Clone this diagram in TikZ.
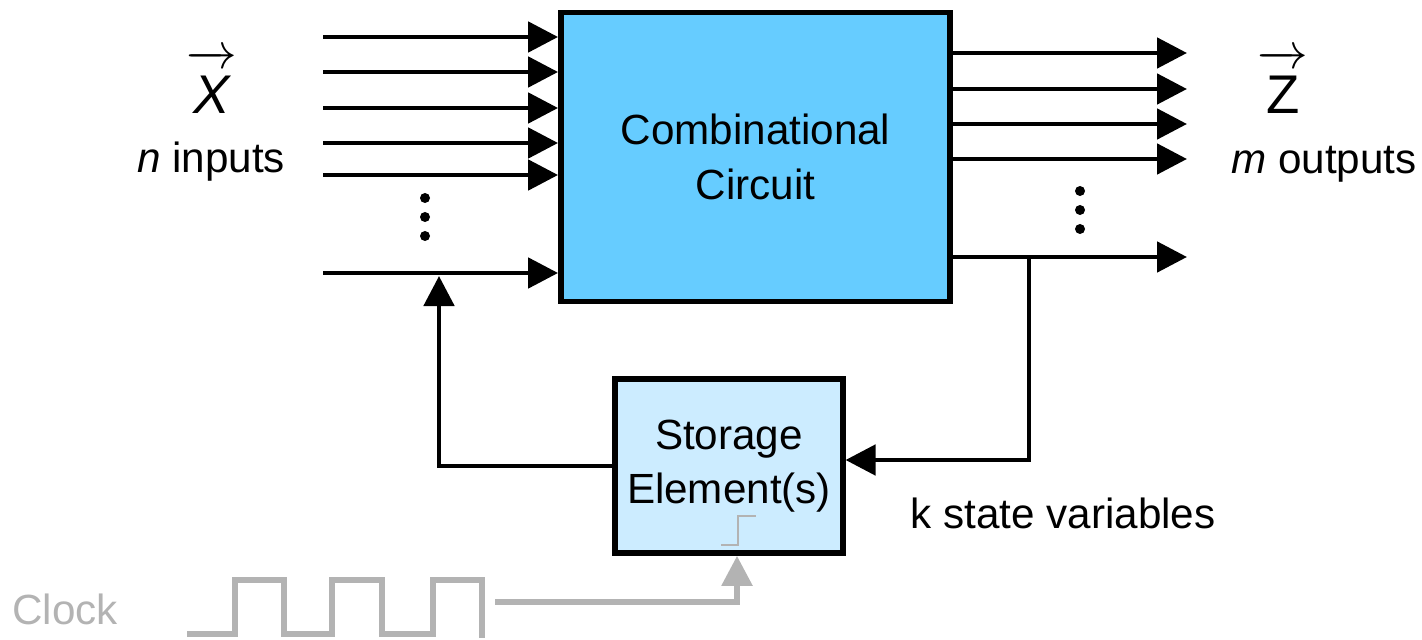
\documentclass[tikz,border=0pt]{standalone}
\usepackage{amsmath}
\usepackage{fontspec}
\setmainfont{Liberation Sans}
\usepackage{tikz}
\usetikzlibrary{arrows.meta,calc}

\definecolor{ccblue}{RGB}{102,204,255}
\definecolor{seblue}{RGB}{204,236,255}
\definecolor{clkgray}{RGB}{179,179,179}

\newcommand{\vecsym}[1]{$\overrightarrow{\rule{0pt}{12.8pt}\mbox{#1}}$}

\tikzset{
	block/.style={draw, line width=1.6pt, align=center},
	dot/.style={fill, circle, inner sep=0pt, minimum size=0.1cm},
	vlabel/.style={inner sep=0pt, font=\fontsize{15.5}{18}\selectfont},
	tlabel/.style={inner sep=1pt}
}

\begin{document}
\begin{tikzpicture}[x=0.01cm, y=-0.01cm, >={Triangle[length=0.3cm,width=0.3cm]}, line width=1.4pt, font=\fontsize{12}{15.5}\selectfont]
			\useasboundingbox (0,0) rectangle (1422,640);
			\node[block, fill=ccblue, minimum width=3.89cm, minimum height=2.89cm] (cc) at (755.5,157) {Combinational\\Circuit};
			\node[block, fill=seblue, minimum width=2.22cm, minimum height=1.74cm] (se) at (729,466) {Storage\\Element(s)};
			% inputs
			\foreach \y in {37,72,108,143,175,273}
				\draw[->] (323,\y) coordinate (in\y) -- (in\y -| cc.west);
			\foreach \y in {198,217,236}
				\node[dot] at (425,\y) {};
			% outputs
			\foreach \y in {53,89,124,159,257}
				\draw[->] (cc.east |- 0,\y) coordinate (out\y) -- (1187,\y);
			\foreach \y in {191,210,229}
				\node[dot] at (1080,\y) {};
			% feedback
			\coordinate (tap) at (1029,257);
			\coordinate (fb) at (439,276);
			\draw[->] (tap) |- ([yshift=0.06cm]se.east);
			\draw[->] (se.west) -| (fb);
			% labels
			\node[vlabel] (xvec) at (212,82) {\vecsym{\itshape X}};
			\node[tlabel] (nin) at (211,162) {\textit{n} inputs};
			\node[vlabel] (zvec) at (1283,82) {\vecsym{Z}};
			\node[tlabel] (mout) at (1324,164) {\textit{m} outputs};
			\node[tlabel] (kvar) at (1063,513) {k state variables};
			% clock
			\node[tlabel, text=clkgray] (clklbl) at (65,609) {Clock};
			\draw[clkgray, line width=1.6pt] (187,634) -- (235,634) -- (235,580) -- (284,580) -- (284,634) -- (332,634) -- (332,580) -- (382,580) -- (382,634) -- (433,634) -- (433,580) -- (482,580) -- (482,638);
			\coordinate (clk) at (495,602);
			\draw[clkgray, line width=1.6pt, ->] (clk) -| ([xshift=0.08cm]se.south);
			\draw[clkgray, line width=0.6pt] (721,545) -- (738,545) -- (738,516) -- (756,516);
		\end{tikzpicture}
\end{document}
